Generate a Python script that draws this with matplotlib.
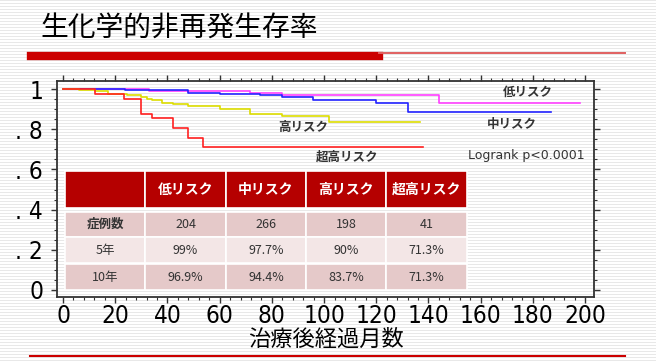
import numpy as np
import matplotlib
matplotlib.use('Agg')
import matplotlib.pyplot as plt
from matplotlib.patches import Rectangle
from matplotlib.lines import Line2D
from matplotlib.ticker import MultipleLocator
from matplotlib import font_manager

plt.rcParams['font.family'] = ['Noto Sans CJK JP', 'DejaVu Sans']

# --- データ ---
low_t = [0, 33, 71.6, 83.8, 144, 198]
low_s = [1.0, 0.99, 0.98, 0.969, 0.93, 0.93]

mid_t = [0, 23.8, 48, 60, 75.5, 83.8, 95.7, 119.8, 132, 187]
mid_s = [1.0, 0.994, 0.982, 0.977, 0.97, 0.96, 0.944, 0.93, 0.886, 0.886]

high_t = [0, 6, 12.3, 17.4, 24.4, 29.9, 32, 34, 37.8, 42.3, 48, 60, 71.6, 83.8, 101.7, 136.8]
high_s = [1.0, 0.995, 0.99, 0.977, 0.97, 0.96, 0.952, 0.944, 0.932, 0.927, 0.915, 0.902,
          0.877, 0.864, 0.837, 0.837]

vhigh_t = [0, 12.3, 23.5, 29.9, 34, 42.3, 48, 53.8, 137.8]
vhigh_s = [1.0, 0.976, 0.951, 0.878, 0.854, 0.805, 0.756, 0.713, 0.713]

groups = ['低リスク', '中リスク', '高リスク', '超高リスク']
row_labels = ['症例数', '5年', '10年']
n_cases = ['204', '266', '198', '41']
surv_5y = ['99%', '97.7%', '90%', '71.3%']
surv_10y = ['96.9%', '94.4%', '83.7%', '71.3%']

x_ticks = [0, 20, 40, 60, 80, 100, 120, 140, 160, 180, 200]
y_ticks = [0, 0.2, 0.4, 0.6, 0.8, 1.0]
y_ticklabels = ['0', '. 2', '. 4', '. 6', '. 8', '1']

# 細いフォントを探す (無ければ DejaVu Sans)
narrow = None
for f in font_manager.fontManager.ttflist:
    if 'Narrow' in f.name or ('DejaVu Sans' == f.name and 'Condensed' in f.fname and 'Bold' not in f.fname
                              and 'Oblique' not in f.fname):
        narrow = f.fname
        break
if narrow:
    tick_prop = font_manager.FontProperties(fname=narrow, size=17.5)
else:
    tick_prop = font_manager.FontProperties(family='DejaVu Sans', size=15)

W, H = 656, 362
fig = plt.figure(figsize=(W / 100, H / 100), dpi=100)

# 背景のストライプ
stripes = np.ones((H, W, 3))
stripes[::3] = 0.91
fig.figimage(stripes, 0, 0, zorder=-10)
fig.patch.set_alpha(0)

# タイトルと赤いライン
fig.text(40 / W, 1 - 28 / H, '生化学的非再発生存率', fontsize=20, va='center', ha='left', color='black')
fig.add_artist(Line2D([31 / W, 379 / W], [1 - 56 / H] * 2, color='#CC0000', lw=6))
fig.add_artist(Line2D([379 / W, 625 / W], [1 - 52.5 / H] * 2, color='#E06060', lw=1.4))
fig.add_artist(Line2D([30 / W, 625 / W], [1 - 356 / H] * 2, color='#CC0000', lw=1.5))

ax = fig.add_axes([57 / W, 65 / H, 537 / W, 216 / H])
ax.patch.set_alpha(0)

ax.step(low_t, low_s, where='post', color='#FF40FF', lw=1.2)
ax.step(mid_t, mid_s, where='post', color='#2222FF', lw=1.2)
ax.step(high_t, high_s, where='post', color='#DDDD00', lw=1.2)
ax.step(vhigh_t, vhigh_s, where='post', color='#FF2020', lw=1.2)

ax.set_xlim(-2.3, 203.4)
ax.set_ylim(-0.035, 1.04)

ax.set_xticks(x_ticks)
ax.set_xticklabels([str(v) for v in x_ticks], fontproperties=tick_prop)
ax.set_yticks(y_ticks)
ax.set_yticklabels(y_ticklabels, fontproperties=tick_prop)
ax.xaxis.set_minor_locator(MultipleLocator(4))
ax.yaxis.set_minor_locator(MultipleLocator(0.05))
ax.tick_params(which='both', direction='out', top=True, right=True, color='#333333')
ax.tick_params(which='major', length=4, width=1)
ax.tick_params(which='minor', length=2.5, width=0.8)
ax.tick_params(axis='x', labeltop=False, pad=1)
ax.tick_params(axis='y', labelright=False, pad=6)
for sp in ax.spines.values():
    sp.set_color('#333333')
    sp.set_linewidth(1.3)

ax.set_xlabel('治療後経過月数', fontsize=16, labelpad=0)

# 曲線ラベル
lab = dict(fontsize=9, color='#333333', fontweight='bold', ha='center', va='center')
ax.text(178, 0.985, groups[0], **lab)
ax.text(172, 0.824, groups[1], **lab)
ax.text(92, 0.808, groups[2], **lab)
ax.text(109, 0.66, groups[3], **lab)
ax.text(155, 0.67, 'Logrank p<0.0001', fontsize=9, color='#333333', ha='left', va='center',
        family=['DejaVu Sans'])

# 表
col_x = [0.015 + i * 0.1496 for i in range(5)]
col_w = 0.1496
row_y = [(0.412, 0.583), (0.279, 0.395), (0.157, 0.278), (0.032, 0.153)]
row_colors = ['#B50000', '#E5C9C9', '#F3E6E6', '#E5C9C9']
body = [n_cases, surv_5y, surv_10y]

for r, (y0, y1) in enumerate(row_y):
    for c in range(5):
        ax.add_patch(Rectangle((col_x[c], y0), col_w, y1 - y0, transform=ax.transAxes,
                               facecolor=row_colors[r], edgecolor='white', lw=1.2, zorder=5))
        if r == 0:
            txt = '' if c == 0 else groups[c - 1]
            style = dict(color='white', fontweight='bold', fontsize=10)
        else:
            txt = row_labels[r - 1] if c == 0 else body[r - 1][c - 1]
            style = dict(color='#333333', fontsize=9,
                         fontweight='bold' if (c == 0 and r == 1) else 'normal')
        if txt:
            ax.text(col_x[c] + col_w / 2, (y0 + y1) / 2, txt, transform=ax.transAxes,
                    ha='center', va='center', zorder=6, **style)

fig.savefig('out.png', dpi=100)
